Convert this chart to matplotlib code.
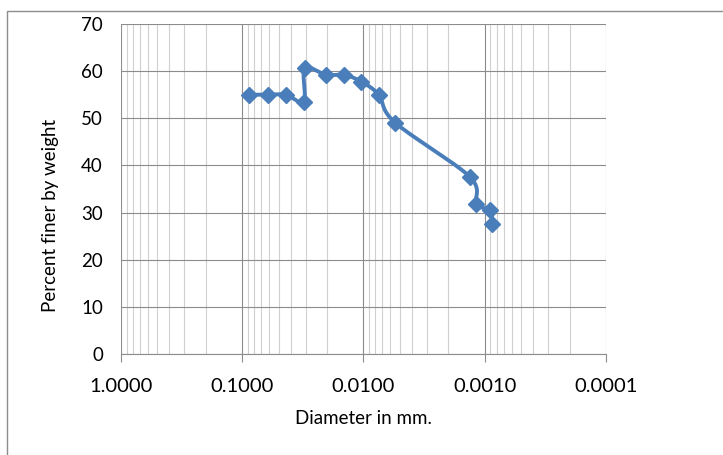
import numpy as np
import matplotlib.pyplot as plt
from matplotlib.patches import Rectangle
from matplotlib.ticker import FixedLocator, LogLocator, NullFormatter

plt.rcParams['font.family'] = ['Lato', 'DejaVu Sans']

# grain size (mm) and percent finer
diameter = [0.0877, 0.0618, 0.0436, 0.0310, 0.0305, 0.0204, 0.0144,
            0.0105, 0.0075, 0.0055, 0.00133, 0.00117, 0.00090, 0.00087]
percent_finer = [55.0, 55.0, 55.0, 53.5, 60.6, 59.2, 59.2,
                 57.8, 55.0, 49.1, 37.6, 31.8, 30.5, 27.5]
x_ticks = [1.0, 0.1, 0.01, 0.001, 0.0001]
x_tick_labels = ['1.0000', '0.1000', '0.0100', '0.0010', '0.0001']

blue = '#4a7ebb'


def smooth(xs, ys, n=20):
    # Catmull-Rom curve through points, done in log-x space like a spreadsheet smoothed line
    lx = np.log10(xs)
    p = np.column_stack([lx / 4.0, np.array(ys) / 70.0])
    p = np.vstack([p[0], p, p[-1]])
    out = []
    for i in range(1, len(p) - 2):
        p0, p1, p2, p3 = p[i - 1], p[i], p[i + 1], p[i + 2]
        c1 = p1 + (p2 - p0) / 6.0
        c2 = p2 - (p3 - p1) / 6.0
        t = np.linspace(0, 1, n)[:, None]
        seg = ((1 - t) ** 3) * p1 + 3 * ((1 - t) ** 2) * t * c1 + 3 * (1 - t) * t ** 2 * c2 + t ** 3 * p2
        out.append(seg)
    out = np.vstack(out)
    return 10 ** (out[:, 0] * 4.0), out[:, 1] * 70.0


fig = plt.figure(figsize=(7.23, 4.55), dpi=100)
ax = fig.add_axes([121 / 723, 1 - 354 / 455, (606 - 121) / 723, (354 - 24) / 455])

sx, sy = smooth(diameter, percent_finer)
ax.plot(sx, sy, color=blue, lw=2.8, zorder=3, solid_capstyle='round')
ax.plot(diameter, percent_finer, ls='none', marker='D', ms=8.5, color=blue, zorder=4)

ax.set_xscale('log')
ax.set_xlim(1.0, 0.0001)
ax.set_ylim(0, 70)

ax.xaxis.set_major_locator(FixedLocator(x_ticks))
ax.set_xticklabels(x_tick_labels)
ax.xaxis.set_minor_locator(LogLocator(base=10, subs=np.arange(2, 10)))
ax.xaxis.set_minor_formatter(NullFormatter())
ax.set_yticks(np.arange(0, 71, 10))

ax.grid(True, which='major', color='#8c8c8c', lw=0.8)
ax.grid(True, which='minor', axis='x', color='#d0d0d0', lw=0.8)
ax.set_axisbelow(True)

for side in ['top', 'right', 'left']:
    ax.spines[side].set_visible(False)
ax.spines['bottom'].set_color('#8c8c8c')

ax.tick_params(axis='x', which='major', length=6, color='#8c8c8c', labelsize=14.5, pad=11)
ax.tick_params(axis='x', which='minor', length=0)
ax.tick_params(axis='y', length=0, labelsize=13.5, pad=13)

ax.set_xlabel('Diameter in mm.', fontsize=13.5, labelpad=11)
ax.set_ylabel('Percent finer by weight', fontsize=13.5)
ax.yaxis.set_label_coords(-0.128, 0.42)

fig.patches.append(Rectangle((7 / 723, -0.1), 1.0, 1 - 11 / 455 + 0.1, transform=fig.transFigure,
                             fill=False, edgecolor='#8c8c8c', lw=1))

fig.savefig('out.png', dpi=100)
